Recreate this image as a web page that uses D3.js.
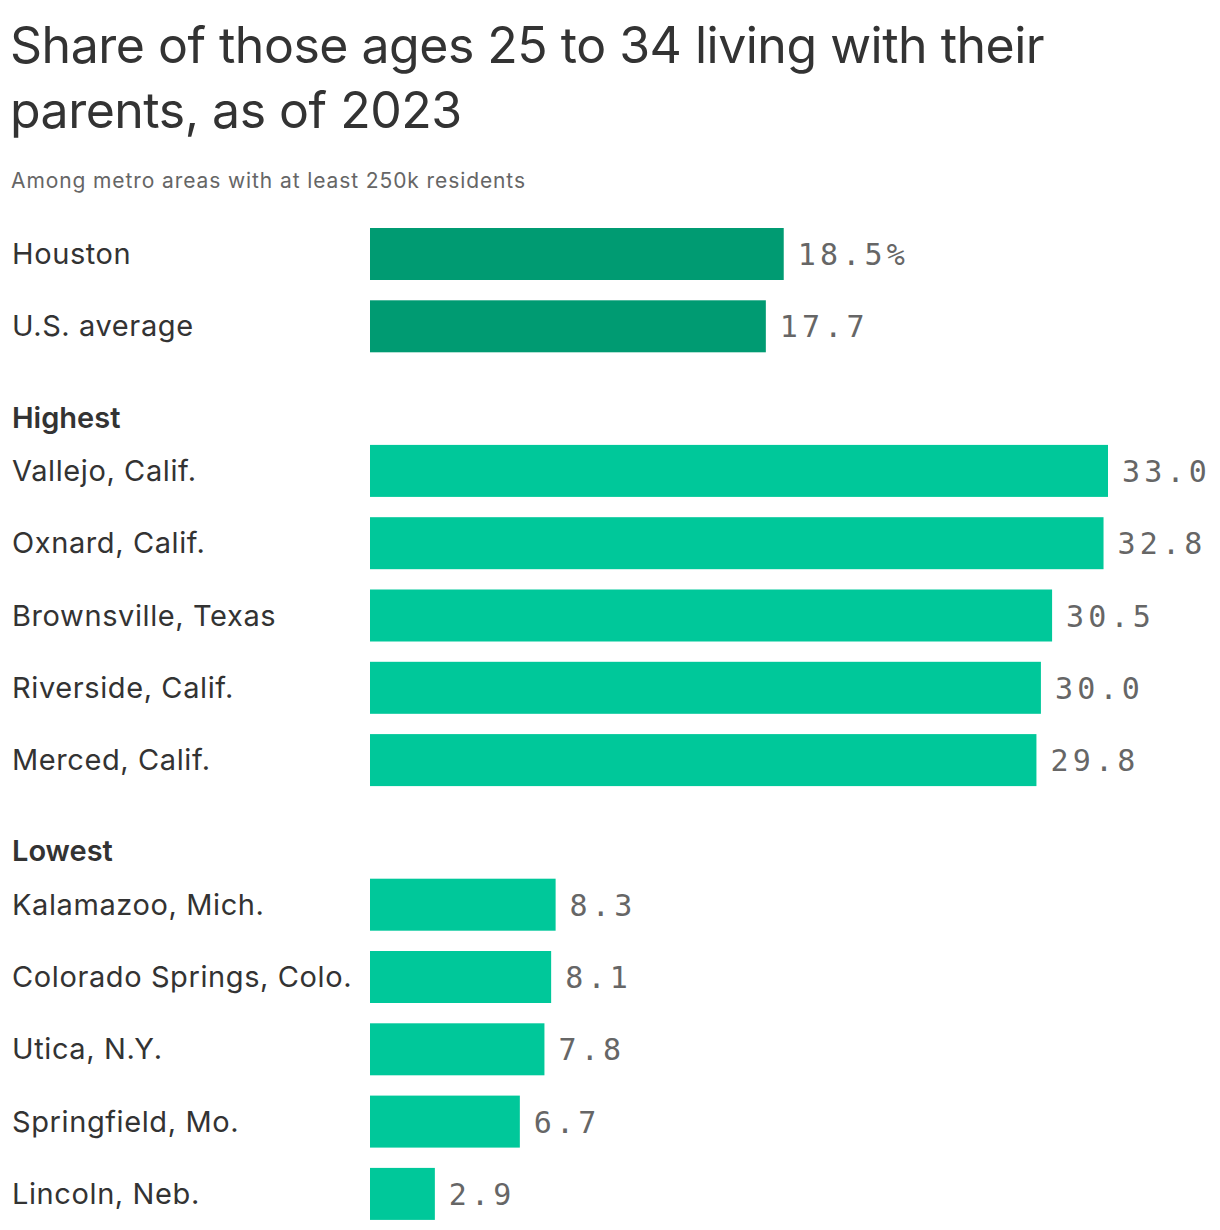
<!DOCTYPE html>
<html>
<head>
<meta charset="utf-8">
<script src="https://cdn.jsdelivr.net/npm/d3@7"></script>
<style>
  body { margin: 0; background: #fff; }
  svg { display: block; }
</style>
</head>
<body>
<svg id="chart"></svg>
<script>
const titleLines = ["Share of those ages 25 to 34 living with their", "parents, as of 2023"];
const subtitle = "Among metro areas with at least 250k residents";

const topNames = ["Houston", "U.S. average"];
const topValues = [18.5, 17.7];

const highNames = ["Vallejo, Calif.", "Oxnard, Calif.", "Brownsville, Texas", "Riverside, Calif.", "Merced, Calif."];
const highValues = [33.0, 32.8, 30.5, 30.0, 29.8];

const lowNames = ["Kalamazoo, Mich.", "Colorado Springs, Colo.", "Utica, N.Y.", "Springfield, Mo.", "Lincoln, Neb."];
const lowValues = [8.3, 8.1, 7.8, 6.7, 2.9];

const groupHeaders = ["Highest", "Lowest"];

const width = 1220;
const height = 1230;

const svg = d3.select("#chart").attr("width", width).attr("height", height);

const font = "Inter, 'Noto Sans', sans-serif";
const mono = "'DejaVu Sans Mono', 'Liberation Mono', monospace";

// rows in order, header slots included
const rows = [];
topNames.forEach((n, i) => rows.push({ key: "t" + i, name: n, value: topValues[i], color: "#009b72" }));
rows.push({ key: "h0", header: groupHeaders[0] });
highNames.forEach((n, i) => rows.push({ key: "a" + i, name: n, value: highValues[i], color: "#00c89a" }));
rows.push({ key: "h1", header: groupHeaders[1] });
lowNames.forEach((n, i) => rows.push({ key: "b" + i, name: n, value: lowValues[i], color: "#00c89a" }));

const step = 72.3;
const barH = 52;
const y0 = 228;
const y = d3.scaleBand()
  .domain(rows.map(d => d.key))
  .range([y0, y0 + (rows.length - 1) * step + barH])
  .paddingInner(1 - barH / step)
  .paddingOuter(0);

const x = d3.scaleLinear().domain([0, 33]).range([370, 1108]);

// title
svg.append("text")
  .attr("font-family", font)
  .attr("font-size", 50)
  .attr("letter-spacing", -0.5)
  .attr("fill", "#333")
  .selectAll("tspan")
  .data(titleLines)
  .enter()
  .append("tspan")
  .attr("x", 10)
  .attr("y", (d, i) => 63 + i * 65)
  .text(d => d);

svg.append("text")
  .attr("x", 11)
  .attr("y", 188)
  .attr("font-family", font)
  .attr("font-size", 21)
  .attr("letter-spacing", 0.9)
  .attr("fill", "#666")
  .text(subtitle);

const bars = rows.filter(d => !d.header);
const headers = rows.filter(d => d.header);

svg.selectAll(".hdr")
  .data(headers)
  .enter()
  .append("text")
  .attr("class", "hdr")
  .attr("x", 12)
  .attr("y", d => y(d.key) + barH + 3)
  .attr("font-family", font)
  .attr("font-size", 29)
  .attr("font-weight", 600)
  .attr("fill", "#333")
  .text(d => d.header);

const g = svg.selectAll(".row")
  .data(bars)
  .enter()
  .append("g")
  .attr("class", "row");

g.append("text")
  .attr("x", 12)
  .attr("y", d => y(d.key) + barH / 2 + 10)
  .attr("font-family", font)
  .attr("font-size", 29)
  .attr("letter-spacing", 0.6)
  .attr("fill", "#333")
  .text(d => d.name);

g.append("rect")
  .attr("x", x(0))
  .attr("y", d => y(d.key))
  .attr("width", d => x(d.value) - x(0))
  .attr("height", y.bandwidth())
  .attr("fill", d => d.color);

g.append("text")
  .attr("x", d => x(d.value) + 14)
  .attr("y", d => y(d.key) + barH / 2 + 11)
  .attr("font-family", mono)
  .attr("font-size", 30)
  .attr("letter-spacing", 4.2)
  .attr("fill", "#666")
  .text((d, i) => d.value.toFixed(1) + (i === 0 ? "%" : ""));
</script>
</body>
</html>
